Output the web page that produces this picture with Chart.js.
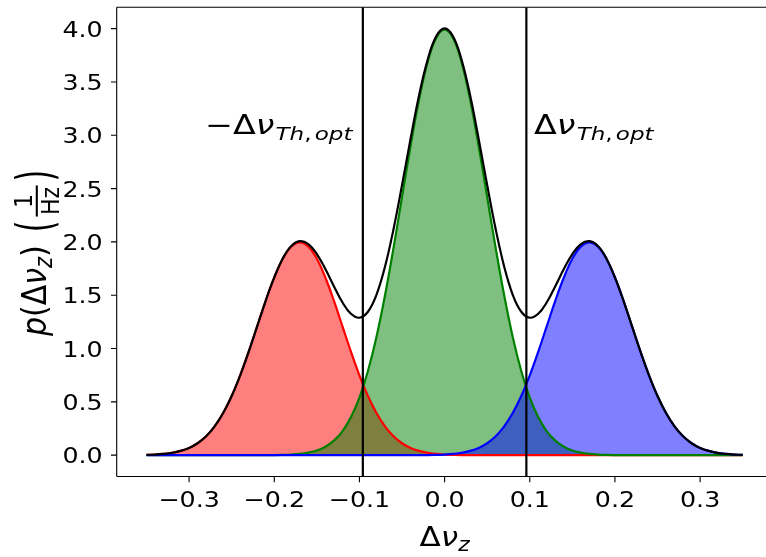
<!DOCTYPE html>
<html>
<head>
<meta charset="utf-8">
<script src="https://cdn.jsdelivr.net/npm/chart.js@4.4.0/dist/chart.umd.min.js"></script>
<style>
  html, body { margin: 0; padding: 0; background: #fff; overflow: hidden; width: 766px; height: 557px; }
  #wrap { position: absolute; left: 0; top: 0; width: 780px; height: 557px; }
</style>
</head>
<body>
<div id="wrap"><canvas id="c" width="780" height="557"></canvas></div>
<script>
// ---- data ----
const X_VALUES = [-0.35,-0.34,-0.33,-0.32,-0.31,-0.30,-0.29,-0.28,-0.27,-0.26,-0.25,-0.24,-0.23,-0.22,-0.21,-0.20,-0.19,-0.18,-0.17,-0.16,-0.15,-0.14,-0.13,-0.12,-0.11,-0.10,-0.09,-0.08,-0.07,-0.06,-0.05,-0.04,-0.03,-0.02,-0.01,0.00,0.01,0.02,0.03,0.04,0.05,0.06,0.07,0.08,0.09,0.10,0.11,0.12,0.13,0.14,0.15,0.16,0.17,0.18,0.19,0.20,0.21,0.22,0.23,0.24,0.25,0.26,0.27,0.28,0.29,0.30,0.31,0.32,0.33,0.34,0.35];
const RED_VALUES = [0.003,0.006,0.012,0.022,0.040,0.068,0.112,0.177,0.270,0.395,0.555,0.749,0.971,1.210,1.449,1.666,1.842,1.956,1.995,1.956,1.842,1.666,1.449,1.210,0.971,0.749,0.555,0.395,0.270,0.177,0.112,0.068,0.040,0.022,0.012,0.006,0.003,0.001,0.001,0,0,0,0,0,0,0,0,0,0,0,0,0,0,0,0,0,0,0,0,0,0,0,0,0,0,0,0,0,0,0,0];
const GREEN_VALUES = [0,0,0,0,0,0,0,0,0,0,0,0,0,0,0.001,0.001,0.003,0.006,0.012,0.024,0.044,0.079,0.136,0.224,0.355,0.540,0.790,1.109,1.497,1.942,2.420,2.897,3.333,3.683,3.911,3.990,3.911,3.683,3.333,2.897,2.420,1.942,1.497,1.109,0.790,0.540,0.355,0.224,0.136,0.079,0.044,0.024,0.012,0.006,0.003,0.001,0.001,0,0,0,0,0,0,0,0,0,0,0,0,0,0];
const BLUE_VALUES = [0,0,0,0,0,0,0,0,0,0,0,0,0,0,0,0,0,0,0,0,0,0,0,0,0,0,0,0,0,0,0,0,0.001,0.001,0.003,0.006,0.012,0.022,0.040,0.068,0.112,0.177,0.270,0.395,0.555,0.749,0.971,1.210,1.449,1.666,1.842,1.956,1.995,1.956,1.842,1.666,1.449,1.210,0.971,0.749,0.555,0.395,0.270,0.177,0.112,0.068,0.040,0.022,0.012,0.006,0.003];
const TOTAL_VALUES = [0.003,0.006,0.012,0.022,0.040,0.068,0.112,0.177,0.270,0.395,0.555,0.749,0.971,1.210,1.450,1.667,1.845,1.962,2.007,1.980,1.886,1.745,1.585,1.434,1.326,1.289,1.345,1.504,1.767,2.119,2.532,2.965,3.374,3.706,3.926,4.002,3.926,3.706,3.374,2.965,2.532,2.119,1.767,1.504,1.345,1.289,1.326,1.434,1.585,1.745,1.886,1.980,2.007,1.962,1.845,1.667,1.450,1.210,0.971,0.749,0.555,0.395,0.270,0.177,0.112,0.068,0.040,0.022,0.012,0.006,0.003];
const THRESHOLDS = [-0.096, 0.096];
const X_TICKS = [-0.3,-0.2,-0.1,0.0,0.1,0.2,0.3];
const X_TICK_LABELS = ['\u22120.3','\u22120.2','\u22120.1','0.0','0.1','0.2','0.3'];
const Y_TICKS = [0.0,0.5,1.0,1.5,2.0,2.5,3.0,3.5,4.0];
const Y_TICK_LABELS = ['0.0','0.5','1.0','1.5','2.0','2.5','3.0','3.5','4.0'];
const X_RANGE = [-0.385, 0.385];
const Y_RANGE = [-0.2, 4.2];

// ---- helpers ----
const FONT = '"DejaVu Sans", "Liberation Sans", sans-serif';
const SX = 1.15;      // horizontal stretch of the reference text
const SX_ANN = 1.28;  // stretch of the in-plot annotations
function toPoints(ys) { return X_VALUES.map((x, i) => ({ x: x, y: ys[i] })); }
function vline(v) { return [{ x: v, y: Y_RANGE[0] }, { x: v, y: Y_RANGE[1] }]; }

function fontStr(size, italic) { return (italic ? 'italic ' : '') + size + 'px ' + FONT; }
function runsWidth(ctx, runs) {
  let w = 0;
  for (const r of runs) { ctx.font = fontStr(r.size, r.it); w += ctx.measureText(r.t).width + (r.gap || 0); }
  return w;
}
function drawRuns(ctx, runs) {
  let x = 0;
  for (const r of runs) {
    ctx.font = fontStr(r.size, r.it);
    ctx.fillText(r.t, x, r.dy || 0);
    x += ctx.measureText(r.t).width + (r.gap || 0);
  }
  return x;
}
// tall thin delimiter: glyph at size `size`, stretched vertically by `k`, centred on `cy`
function drawTallParen(ctx, ch, x, cy, size, k) {
  ctx.save();
  ctx.font = fontStr(size, false);
  ctx.translate(x, cy);
  ctx.scale(1, k);
  ctx.fillText(ch, 0, 0.31 * size);
  ctx.restore();
  return ctx.measureText(ch).width;
}

const decor = {
  id: 'decor',
  afterDraw(chart) {
    const ctx = chart.ctx;
    const a = chart.chartArea;
    const xs = chart.scales.x, ys = chart.scales.y;
    ctx.save();
    // spines
    ctx.strokeStyle = '#000';
    ctx.lineWidth = 1.1;
    ctx.beginPath();
    ctx.moveTo(a.left, a.top); ctx.lineTo(a.right, a.top);
    ctx.moveTo(a.left, a.top); ctx.lineTo(a.left, a.bottom);
    ctx.moveTo(a.left, a.bottom); ctx.lineTo(a.right, a.bottom);
    ctx.moveTo(a.right, a.top); ctx.lineTo(a.right, a.bottom);
    ctx.stroke();
    // ticks
    ctx.beginPath();
    X_TICKS.forEach(v => { const px = xs.getPixelForValue(v); ctx.moveTo(px, a.bottom); ctx.lineTo(px, a.bottom + 5.7); });
    Y_TICKS.forEach(v => { const py = ys.getPixelForValue(v); ctx.moveTo(a.left, py); ctx.lineTo(a.left - 5.7, py); });
    ctx.stroke();
    ctx.fillStyle = '#000';
    ctx.textBaseline = 'alphabetic';
    // x tick labels
    X_TICKS.forEach((v, i) => {
      const px = xs.getPixelForValue(v);
      ctx.font = fontStr(22, false);
      const w = ctx.measureText(X_TICK_LABELS[i]).width;
      ctx.save(); ctx.translate(px, a.bottom + 30.5); ctx.scale(SX, 1);
      ctx.fillText(X_TICK_LABELS[i], -w / 2, 0); ctx.restore();
    });
    // y tick labels
    Y_TICKS.forEach((v, i) => {
      const py = ys.getPixelForValue(v);
      ctx.font = fontStr(22, false);
      const w = ctx.measureText(Y_TICK_LABELS[i]).width;
      ctx.save(); ctx.translate(a.left - 14, py + 8); ctx.scale(SX, 1);
      ctx.fillText(Y_TICK_LABELS[i], -w, 0); ctx.restore();
    });
    // x axis label: Δν_z
    {
      const runs = [
        { t: '\u0394', size: 27, it: false },
        { t: '\u03bd', size: 27, it: true },
        { t: 'z', size: 19, it: true, dy: 5 }
      ];
      const w = runsWidth(ctx, runs);
      const cx = xs.getPixelForValue(0.0);
      ctx.save(); ctx.translate(cx, 546); ctx.scale(SX, 1); ctx.translate(-w / 2, 0);
      drawRuns(ctx, runs); ctx.restore();
    }
    // annotations
    const sub = (t) => ({ t: t, size: 18, it: true, dy: 6 });
    const annL = [
      { t: '\u2212', size: 26, it: false },
      { t: '\u0394', size: 26, it: false },
      { t: '\u03bd', size: 26, it: true, gap: 1 },
      sub('Th'), { t: ',', size: 18, it: false, dy: 6, gap: 2.5 }, sub('opt')
    ];
    const annR = annL.slice(1);
    ctx.save(); ctx.translate(205, 134); ctx.scale(SX_ANN, 1); drawRuns(ctx, annL); ctx.restore();
    ctx.save(); ctx.translate(534, 134); ctx.scale(SX_ANN, 1); drawRuns(ctx, annR); ctx.restore();
    // y axis label: p(Δν_z) (1/Hz), rotated
    {
      const S = 30;
      const main = [
        { t: 'p', size: S, it: true },
        { t: '(', size: S, it: false },
        { t: '\u0394', size: S, it: false },
        { t: '\u03bd', size: S, it: true },
        { t: 'z', size: 21, it: true, dy: 5.5 },
        { t: ')', size: S, it: false, gap: 13 }
      ];
      ctx.save();
      ctx.translate(46, 336);
      ctx.scale(SX, 1);
      ctx.rotate(-Math.PI / 2);
      let x = drawRuns(ctx, main);
      const axisY = -8;
      // tall parentheses + fraction
      x += drawTallParen(ctx, '(', x, axisY, 30, 1.45) + 4;
      ctx.font = fontStr(22, false);
      const w1 = ctx.measureText('1').width, w2 = ctx.measureText('Hz').width;
      const fw = Math.max(w1, w2) + 3;
      ctx.fillText('1', x + (fw - w1) / 2, axisY - 4);
      ctx.fillText('Hz', x + (fw - w2) / 2, axisY + 19.5);
      ctx.fillRect(x, axisY - 0.9, fw, 1.8);
      x += fw + 4;
      drawTallParen(ctx, ')', x, axisY, 30, 1.45);
      ctx.restore();
    }
    ctx.restore();
  }
};

const common = { pointRadius: 0, pointHoverRadius: 0, tension: 0.4, borderWidth: 2.2 };
new Chart(document.getElementById('c'), {
  type: 'line',
  data: {
    datasets: [
      Object.assign({}, common, { label: 'threshold left', data: vline(THRESHOLDS[0]), borderColor: '#000', fill: false, tension: 0 }),
      Object.assign({}, common, { label: 'threshold right', data: vline(THRESHOLDS[1]), borderColor: '#000', fill: false, tension: 0 }),
      Object.assign({}, common, { label: 'total', data: toPoints(TOTAL_VALUES), borderColor: '#000', fill: false }),
      Object.assign({}, common, { label: 'blue', data: toPoints(BLUE_VALUES), borderColor: '#0000ff', backgroundColor: 'rgba(0,0,255,0.5)', fill: 'origin' }),
      Object.assign({}, common, { label: 'green', data: toPoints(GREEN_VALUES), borderColor: '#008000', backgroundColor: 'rgba(0,128,0,0.5)', fill: 'origin' }),
      Object.assign({}, common, { label: 'red', data: toPoints(RED_VALUES), borderColor: '#ff0000', backgroundColor: 'rgba(255,0,0,0.5)', fill: 'origin' })
    ]
  },
  options: {
    responsive: false,
    animation: false,
    events: [],
    layout: { padding: { top: 7.3, right: 7.5, left: 0, bottom: 0 } },
    plugins: { legend: { display: false }, tooltip: { enabled: false }, filler: { drawTime: 'beforeDatasetsDraw' } },
    scales: {
      x: { type: 'linear', min: X_RANGE[0], max: X_RANGE[1], grid: { display: false }, border: { display: false }, ticks: { display: false },
           afterFit(s) { s.height = 80.5; } },
      y: { type: 'linear', min: Y_RANGE[0], max: Y_RANGE[1], grid: { display: false }, border: { display: false }, ticks: { display: false },
           afterFit(s) { s.width = 116.7; } }
    }
  },
  plugins: [decor]
});
</script>
</body>
</html>
